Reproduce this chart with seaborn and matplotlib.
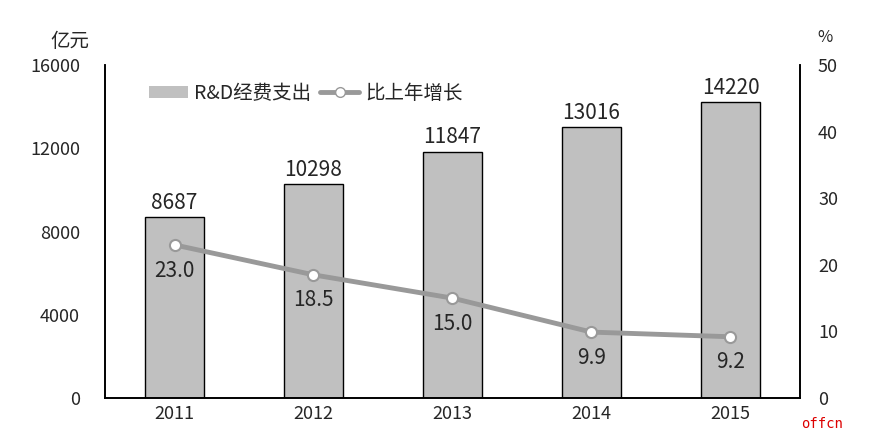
import matplotlib
matplotlib.use('Agg')
import matplotlib.pyplot as plt
import seaborn as sns
import pandas as pd
from matplotlib.lines import Line2D
from matplotlib.patches import Patch

years = ['2011', '2012', '2013', '2014', '2015']
spending = [8687, 10298, 11847, 13016, 14220]
growth = [23.0, 18.5, 15.0, 9.9, 9.2]

sns.set_style('white')
plt.rcParams['font.family'] = ['Noto Sans CJK SC', 'DejaVu Sans']

df = pd.DataFrame({'Year': years, 'Spending': spending, 'Growth': growth})

fig = plt.figure(figsize=(8.7, 4.37), dpi=100)
ax = fig.add_axes([0.1207, 0.0892, 0.7988, 0.7618])

# bars: R&D spending (left axis)
sns.barplot(x='Year', y='Spending', data=df, ax=ax, color='#c0c0c0',
            edgecolor='black', linewidth=1.0, width=0.42, saturation=1)
ax.set_ylim(0, 16000)
ax.set_yticks([0, 4000, 8000, 12000, 16000])
ax.set_xlim(-0.5, 4.5)
ax.set_xlabel('')
ax.set_ylabel('')
ax.tick_params(axis='both', length=0, labelsize=13)
ax.tick_params(axis='x', pad=5)
ax.tick_params(axis='y', pad=18)

for i, v in enumerate(spending):
    ax.text(i, v + 150, str(v), ha='center', va='bottom', fontsize=15)

# line: growth rate (right axis)
ax2 = ax.twinx()
sns.lineplot(x=list(range(5)), y=growth, ax=ax2, color='#999999', linewidth=3.5,
             marker='o', markersize=8, markerfacecolor='white',
             markeredgecolor='#999999', markeredgewidth=1.5)
ax2.set_ylim(0, 50)
ax2.set_yticks(range(0, 51, 10))
ax2.tick_params(axis='y', length=0, labelsize=13, pad=13)
ax2.set_ylabel('')

for i, v in enumerate(growth):
    ax2.text(i, v - 2.2, f'{v:.1f}', ha='center', va='top', fontsize=15)

for a in (ax, ax2):
    a.spines['top'].set_visible(False)
    for s in ['left', 'right', 'bottom']:
        a.spines[s].set_color('black')
        a.spines[s].set_linewidth(1.2)

fig.text(0.08, 0.905, '亿元', fontsize=14, ha='center', va='center')
fig.text(0.948, 0.915, '%', fontsize=12, ha='center', va='center')
fig.text(0.945, 0.03, 'offcn', fontsize=10, color='#dd0000', ha='center', va='center',
         family=['DejaVu Sans Mono'])

handles = [Patch(facecolor='#c0c0c0', edgecolor='none', label='R&D经费支出'),
           Line2D([0], [0], color='#999999', linewidth=3.5, marker='o', markersize=7,
                  markerfacecolor='white', markeredgecolor='#999999', label='比上年增长')]
ax2.legend(handles=handles, loc='upper left', bbox_to_anchor=(0.038, 1.0), ncol=2,
           frameon=False, fontsize=14, handlelength=2.0, handletextpad=0.3,
           columnspacing=0.5, handleheight=0.6)

fig.savefig('out.png', dpi=100)
